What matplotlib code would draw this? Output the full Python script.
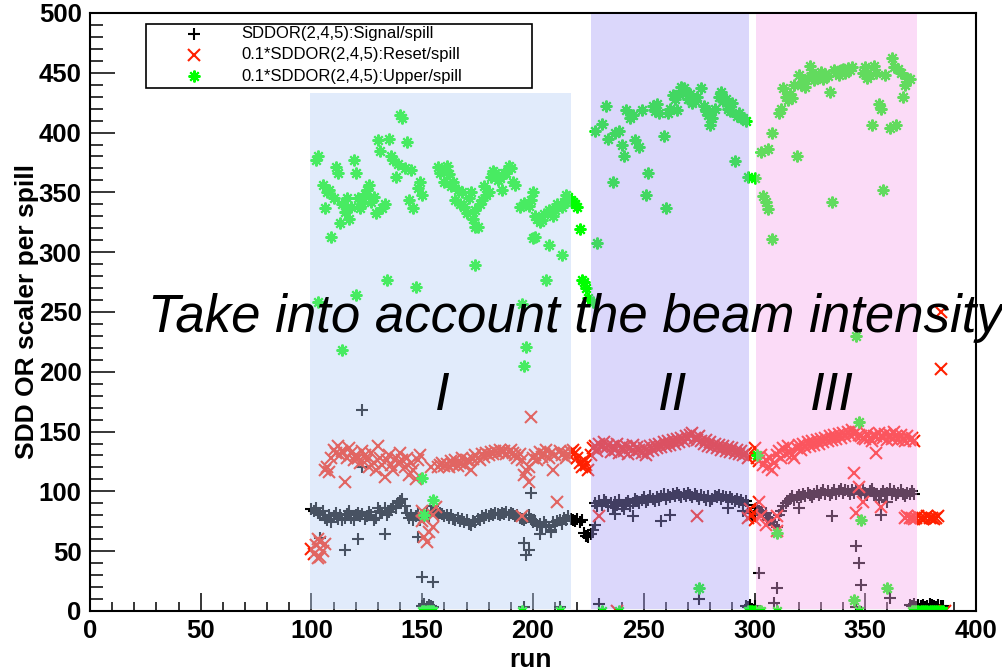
import numpy as np
import matplotlib
matplotlib.use('Agg')
import matplotlib.pyplot as plt
from matplotlib.patches import Rectangle
from matplotlib.ticker import MultipleLocator

plt.rcParams['font.family'] = ['Liberation Sans', 'DejaVu Sans']

# ---- data: SDDOR(2,4,5) signal per spill (black +) ----
sig_runs_I = np.arange(100, 218)
sig_I = [85, 84, 86, 82, 80, 84, 78, 76, 80, 74, 79, 82, 77, 80, 76, 78, 81, 84, 78, 76,
         80, 82, 79, 81, 77, 79, 83, 80, 76, 78, 86, 84, 82, 86, 80, 83, 85, 88, 86, 90,
         92, 94, 88, 82, 78, 80, 76, 79, 82, 76, 80, 78, 82, 79, 84, 88, 83, 80, 82, 81,
         79, 80, 78, 80, 77, 76, 78, 75, 77, 74, 76, 73, 72, 75, 74, 77, 76, 79, 78, 80,
         79, 81, 80, 82, 81, 80, 82, 81, 83, 80, 82, 81, 79, 80, 78, 77, 76, 78, 80, 77,
         74, 75, 72, 73, 70, 74, 72, 70, 68, 74, 72, 75, 76, 73, 78, 76, 79, 77]
sig_runs_gap = np.arange(218, 226)
sig_gap = [76, 75, 77, 74, 76, 65, 63, 62]
sig_runs_II = np.arange(226, 298)
sig_II = [64, 68, 90, 88, 92, 89, 93, 91, 88, 90, 87, 91, 89, 93, 88, 85, 90, 92, 88, 90,
          94, 92, 90, 93, 95, 91, 93, 96, 94, 92, 95, 93, 96, 98, 94, 97, 95, 98, 96, 99,
          97, 95, 98, 96, 99, 97, 95, 98, 96, 94, 97, 95, 93, 96, 92, 94, 96, 95, 97, 94,
          96, 95, 93, 95, 94, 92, 94, 91, 93, 90, 92, 89]
sig_runs_III = np.arange(301, 373)
sig_III = [86, 84, 83, 80, 82, 78, 76, 74, 72, 70, 80, 84, 88, 90, 92, 94, 96, 93, 95, 97,
           95, 98, 96, 99, 97, 95, 98, 100, 97, 99, 101, 98, 100, 97, 99, 101, 98, 100, 102, 99,
           101, 100, 98, 101, 99, 102, 100, 98, 101, 99, 97, 100, 102, 99, 96, 93, 98, 100, 97, 99,
           102, 98, 100, 97, 99, 101, 98, 96, 99, 98, 100, 98]
sig_extra_runs = [104, 115, 121, 123, 123, 133, 148, 150, 155, 150, 151, 152, 153, 154, 155,
                  196, 197, 198, 199, 196, 212, 203, 208,
                  228, 237, 245, 258, 262, 288, 295, 230, 275, 296, 297, 298, 299, 300,
                  298, 299, 300, 302, 309, 310, 320, 335, 346, 347, 348, 346, 357, 360, 361,
                  370, 371, 372, 373, 374, 375, 376, 377, 378, 379, 380, 381, 382, 383, 384, 385]
sig_extra = [61, 51, 60, 120, 168, 64, 62, 28, 24, 4, 6, 3, 5, 4, 3,
             57, 47, 51, 99, 3, 3, 64, 66,
             72, 81, 79, 75, 80, 86, 84, 6, 10, 4, 3, 5, 2, 4,
             82, 78, 80, 32, 7, 19, 86, 79, 54, 40, 22, 3, 80, 91, 11,
             5, 4, 6, 3, 5, 4, 5, 3, 4, 6, 5, 4, 3, 5, 4, 4]

# ---- data: 0.1*SDDOR(2,4,5) reset per spill (red x) ----
res_runs_I = np.arange(100, 218)
res_I = [52, 48, 55, 44, 58, 50, 118, 120, 116, 128, 135, 132, 138, 130, 134, 108, 128, 136, 132, 126,
         130, 128, 124, 134, 130, 126, 120, 132, 124, 118, 138, 128, 122, 112, 126, 130, 122, 118, 128, 124,
         132, 126, 120, 128, 114, 124, 118, 110, 126, 130, 84, 78, 58, 66, 120, 70, 87, 120, 122, 124,
         121, 123, 120, 125, 122, 126, 121, 124, 128, 122, 126, 125, 118, 127, 130, 128, 126, 131, 129, 132,
         130, 133, 131, 134, 132, 135, 133, 134, 131, 133, 135, 132, 130, 128, 131, 126, 114, 118, 108, 162,
         128, 130, 126, 133, 129, 131, 135, 128, 132, 118, 130, 91, 134, 130, 132, 128, 131, 133]
res_runs_gap = np.arange(218, 226)
res_gap = [135, 132, 128, 124, 120, 126, 122, 118]
res_runs_II = np.arange(226, 298)
res_II = [130, 136, 138, 134, 140, 137, 141, 136, 139, 133, 138, 135, 140, 132, 137, 134, 138, 131, 136, 139,
          133, 137, 135, 132, 136, 130, 134, 138, 135, 139, 136, 140, 137, 141, 138, 142, 139, 143, 140, 144,
          141, 145, 142, 146, 144, 147, 149, 145, 143, 146, 142, 140, 143, 138, 141, 137, 140, 136, 139, 135,
          138, 134, 137, 133, 136, 132, 135, 131, 134, 130, 132, 128]
res_runs_III = np.arange(301, 373)
res_III = [128, 125, 130, 122, 126, 120, 128, 118, 124, 130, 134, 128, 136, 131, 138, 133, 130, 128, 136, 139,
           135, 140, 137, 141, 138, 142, 139, 143, 140, 144, 141, 145, 142, 146, 143, 147, 144, 148, 145, 149,
           146, 150, 147, 151, 115, 82, 104, 146, 91, 144, 148, 145, 142, 146, 132, 149, 87, 145, 148, 143,
           147, 144, 150, 146, 143, 147, 144, 142, 146, 143, 145, 142]
res_extra_runs = [104, 106, 103, 150, 151, 155, 195, 198,
                  230, 274, 238, 297, 298, 299, 300, 300,
                  302, 303, 305, 310, 310, 345, 346, 347, 349, 355, 357,
                  368, 369, 370, 371, 372, 373, 374, 375, 376, 377, 378, 379, 380, 381, 382, 383,
                  384, 384, 386]
res_extra = [45, 56, 60, 75, 62, 80, 79, 120,
             79, 79, 0, 78, 85, 80, 76, 136,
             91, 79, 72, 79, 67, 148, 150, 147, 145, 146, 146,
             78, 79, 78, 78, 77, 78, 79, 78, 77, 78, 79, 78, 78, 77, 78, 79,
             202, 250, 0]

# ---- data: 0.1*SDDOR(2,4,5) upper per spill (green *) ----
upp_runs = [102, 103, 105, 106, 107, 108, 109, 110, 111, 112, 113, 114, 115, 116, 117, 118, 119, 120,
            121, 122, 123, 124, 125, 126, 127, 128, 129, 130, 131, 132, 133, 135, 136, 137, 138, 139,
            140, 141, 142, 143, 144, 145, 146, 148, 149, 150,
            157, 158, 159, 160, 161, 162, 163, 164, 165, 166, 167, 168, 169, 170, 171, 172, 173, 174,
            175, 176, 177, 178, 179, 180, 181, 182, 183, 184, 185, 186, 187, 188, 189, 190, 191, 192,
            194, 196, 198, 199, 200, 201, 202, 203, 204, 205, 207, 208, 209, 210, 211, 213, 214, 215,
            216, 217,
            103, 114, 120, 134, 147, 174, 174, 150, 155, 151, 195, 197, 196, 201, 206, 207, 213, 200,
            150, 151, 152, 153, 154, 155, 195, 212,
            218, 219, 220, 221, 222, 223, 224, 225,
            227, 228, 229, 231, 233, 234, 236, 237, 239, 240, 241, 242, 244, 245, 246, 248, 249, 251,
            252, 254, 255, 256, 257, 259, 260, 261, 262, 263, 264, 265, 266, 267, 268, 269, 270, 271,
            272, 273, 274, 276, 277, 278, 279, 280, 281, 282, 284, 285, 286, 287, 288, 289, 290, 291,
            292, 293, 294, 295, 296, 297, 231, 239, 275,
            300, 301, 303, 304, 305, 306, 306, 308, 308, 310, 311, 312, 313, 314, 315, 316, 317, 318,
            319, 320, 321, 322, 323, 324, 325, 326, 327, 328, 329, 330, 331, 332, 333, 334, 335, 336,
            337, 338, 339, 340, 341, 342, 343, 344, 345, 346, 347, 348, 349, 350, 351, 352, 353, 354,
            355, 356, 357, 358, 359, 360, 361, 362, 363, 364, 365, 366, 367, 368, 369, 370,
            297, 298, 299, 300, 302, 303, 310, 347,
            371, 372, 373, 374, 375, 376, 377, 378, 379, 380, 381, 382, 383, 384, 385]
upp = [377, 380, 356, 337, 350, 352, 313, 345, 371, 366, 324, 340, 334, 345, 328, 338, 377, 366,
       345, 337, 341, 349, 352, 356, 342, 346, 333, 394, 385, 337, 340, 395, 380, 377, 363, 374,
       415, 412, 370, 392, 344, 369, 337, 354, 359, 348,
       371, 366, 369, 359, 372, 365, 355, 359, 344, 352, 340, 350, 338, 333, 345, 350, 328, 335,
       321, 340, 344, 355, 348, 350, 363, 368, 366, 360, 362, 352, 366, 366, 372, 370, 359, 356,
       338, 341, 339, 344, 350, 330, 328, 325, 327, 332, 335, 333, 330, 335, 340, 338, 342, 348,
       346, 344,
       258, 218, 264, 277, 271, 289, 321, 111, 93, 80, 257, 221, 205, 313, 277, 306, 298, 312,
       0, 0, 0, 0, 0, 0, 0, 0,
       342, 340, 338, 319, 277, 275, 270, 262,
       258, 401, 308, 407, 422, 395, 359, 400, 401, 390, 380, 419, 412, 415, 394, 388, 419, 348,
       366, 422, 418, 424, 416, 397, 337, 416, 420, 431, 428, 419, 432, 438, 437, 433, 428, 432,
       425, 426, 430, 437, 422, 418, 415, 406, 412, 420, 430, 434, 426, 428, 420, 418, 425, 376,
       414, 416, 412, 412, 410, 363, 0, 0, 19,
       362, 130, 384, 347, 342, 386, 336, 311, 400, 65, 416, 420, 437, 430, 427, 432, 429, 440,
       380, 448, 440, 442, 438, 446, 456, 450, 444, 446, 448, 451, 445, 449, 447, 434, 342, 452,
       451, 448, 452, 453, 450, 454, 452, 455, 9, 230, 158, 76, 450, 455, 446, 448, 406, 456,
       450, 424, 420, 352, 448, 19, 404, 462, 455, 406, 453, 450, 430, 440, 446, 445,
       0, 0, 0, 0, 0, 0, 0, 0,
       0, 0, 0, 0, 0, 0, 0, 0, 0, 0, 0, 0, 0, 0, 0]

# shaded run periods: (first run, last run, top, colour)
period_names = ['I', 'II', 'III']
period_start = [99.2, 226.0, 300.6]
period_end = [217.3, 297.4, 373.3]
period_top = [433, 499, 499]
period_colors = ['#b6cff7', '#a79df7', '#f7a7ed']
period_label_x = [159, 263, 335]

sig_runs = np.concatenate([sig_runs_I, sig_runs_gap, sig_runs_II, sig_runs_III, sig_extra_runs])
sig = np.concatenate([sig_I, sig_gap, sig_II, sig_III, sig_extra])
res_runs = np.concatenate([res_runs_I, res_runs_gap, res_runs_II, res_runs_III, res_extra_runs])
res = np.concatenate([res_I, res_gap, res_II, res_III, res_extra])

fig = plt.figure(figsize=(10.03, 6.72), dpi=100)
ax = fig.add_axes([0.0897, 0.0908, 0.8834, 0.8899])

mk_size = 8.5
mk_width = 1.5
ax.plot(sig_runs, sig, ls='none', marker='+', ms=mk_size, mew=mk_width, color='black', zorder=2)
ax.plot(res_runs, res, ls='none', marker='x', ms=mk_size, mew=mk_width, color='#ff2000', zorder=2)
ax.plot(upp_runs, upp, ls='none', marker=(8, 2, 0), ms=mk_size, mew=mk_width, color='#00ff00', zorder=2)

for x0, x1, top, col in zip(period_start, period_end, period_top, period_colors):
    ax.add_patch(Rectangle((x0, 2), x1 - x0, top - 2, facecolor=col, edgecolor='none',
                           alpha=0.4, zorder=3))

ax.text(26, 233, 'Take into account the beam intensity', fontsize=38, style='italic',
        ha='left', va='baseline', zorder=5, clip_on=False)
for name, xl in zip(period_names, period_label_x):
    ax.text(xl, 168, name, fontsize=38, style='italic', ha='center', va='baseline', zorder=5)

ax.set_xlim(0, 400)
ax.set_ylim(0, 500)
ax.xaxis.set_major_locator(MultipleLocator(50))
ax.xaxis.set_minor_locator(MultipleLocator(10))
ax.yaxis.set_major_locator(MultipleLocator(50))
ax.yaxis.set_minor_locator(MultipleLocator(10))
ax.tick_params(axis='both', which='both', direction='in', width=1.1, labelsize=18.5)
ax.tick_params(axis='x', which='major', length=13, pad=6)
ax.tick_params(axis='x', which='minor', length=6.5)
ax.tick_params(axis='y', which='major', length=18, pad=6)
ax.tick_params(axis='y', which='minor', length=9.5)
for lab in ax.get_xticklabels() + ax.get_yticklabels():
    lab.set_fontweight('bold')
for sp in ax.spines.values():
    sp.set_linewidth(1.5)

ax.set_xlabel('run', fontsize=19, fontweight='bold')
ax.set_ylabel('SDD OR scaler per spill', fontsize=19, fontweight='bold')
ax.xaxis.set_label_coords(0.497, -0.062)
ax.yaxis.set_label_coords(-0.058, 0.5)

# legend box drawn like the ROOT TLegend
ax.add_patch(Rectangle((0.0632, 0.8746), 0.4357, 0.107, transform=ax.transAxes,
                       facecolor='white', edgecolor='black', lw=1.2, zorder=6))
leg_labels = ['SDDOR(2,4,5):Signal/spill', '0.1*SDDOR(2,4,5):Reset/spill',
              '0.1*SDDOR(2,4,5):Upper/spill']
leg_markers = ['+', 'x', (8, 2, 0)]
leg_colors = ['black', '#ff2000', '#00ff00']
leg_y = [0.9649, 0.9298, 0.8946]
for lab, mk, col, yy in zip(leg_labels, leg_markers, leg_colors, leg_y):
    ax.plot([0.1174], [yy], transform=ax.transAxes, ls='none', marker=mk, ms=mk_size, mew=mk_width,
            color=col, zorder=7, clip_on=False)
    ax.text(0.1704, yy, lab, transform=ax.transAxes, fontsize=12, va='center', ha='left', zorder=7)

fig.savefig('out.png', dpi=100)
